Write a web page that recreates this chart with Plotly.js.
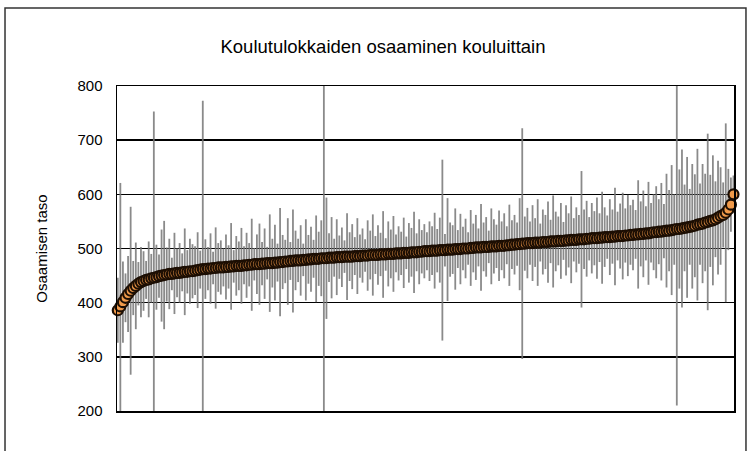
<!DOCTYPE html>
<html>
<head>
<meta charset="utf-8">
<script src="https://cdn.plot.ly/plotly-3.0.1.min.js"></script>
<style>html,body{margin:0;padding:0;background:#fff;}#chart{width:748px;height:451px;}</style>
</head>
<body>
<div id="chart"></div>
<script>
// Koulun keskiarvot (järjestetty pienimmästä suurimpaan)
const meanScores = [
  386, 393, 401, 409, 416, 422, 427, 431, 435, 438,
  440, 442, 443, 445, 446, 447, 449, 450, 451, 452,
  453, 453, 454, 455, 455, 456, 457, 457, 458, 458,
  459, 460, 461, 462, 462, 463, 463, 464, 464, 465,
  465, 465, 466, 466, 467, 467, 468, 468, 468, 469,
  469, 470, 470, 471, 471, 471, 472, 472, 473, 473,
  473, 474, 474, 475, 475, 476, 476, 477, 477, 478,
  478, 478, 479, 479, 480, 480, 481, 481, 481, 482,
  482, 482, 483, 483, 483, 484, 484, 484, 485, 485,
  485, 485, 486, 486, 486, 487, 487, 487, 488, 488,
  488, 488, 489, 489, 489, 490, 490, 490, 491, 491,
  491, 492, 492, 492, 493, 493, 493, 494, 494, 495,
  495, 495, 496, 496, 496, 497, 497, 497, 498, 498,
  498, 499, 499, 499, 500, 500, 500, 501, 501, 502,
  502, 502, 503, 503, 503, 504, 504, 504, 505, 505,
  505, 506, 506, 507, 507, 508, 508, 509, 509, 510,
  510, 510, 511, 511, 511, 512, 512, 512, 513, 513,
  513, 514, 514, 514, 515, 515, 516, 516, 516, 517,
  517, 517, 518, 518, 519, 519, 519, 520, 520, 521,
  521, 521, 522, 522, 523, 523, 523, 524, 524, 525,
  525, 526, 526, 527, 527, 528, 528, 529, 530, 530,
  531, 531, 532, 533, 533, 534, 535, 536, 536, 537,
  538, 539, 540, 541, 542, 544, 545, 546, 548, 549,
  551, 552, 554, 557, 560, 562, 566, 572, 581, 600
];
// Luottamusvälin puolileveys
const errorHalf = [
  60, 228, 75, 45, 70, 155, 50, 80, 40, 65,
  55, 35, 70, 45, 307, 60, 40, 85, 100, 50,
  65, 30, 75, 45, 55, 35, 80, 40, 60, 50,
  45, 70, 35, 311, 55, 40, 65, 30, 75, 45,
  50, 35, 60, 40, 80, 30, 55, 45, 70, 35,
  60, 40, 85, 30, 55, 75, 40, 65, 30, 90,
  45, 70, 35, 100, 50, 40, 80, 35, 95, 55,
  40, 65, 30, 75, 45, 60, 35, 80, 50, 70,
  340, 112, 45, 75, 35, 70, 40, 55, 30, 80,
  45, 60, 35, 70, 40, 50, 30, 65, 45, 75,
  35, 55, 40, 80, 30, 60, 45, 70, 35, 50,
  40, 65, 30, 55, 45, 75, 35, 60, 40, 50,
  35, 55, 45, 70, 40, 60, 167, 30, 95, 50,
  45, 75, 35, 65, 40, 55, 30, 70, 45, 60,
  35, 80, 45, 55, 30, 70, 50, 40, 65, 45,
  60, 35, 75, 45, 55, 40, 85, 213, 50, 65,
  40, 70, 45, 80, 35, 60, 50, 75, 40, 85,
  55, 45, 70, 35, 65, 50, 80, 40, 60, 45,
  126, 55, 70, 40, 65, 50, 75, 45, 85, 55,
  40, 70, 50, 90, 45, 60, 80, 50, 75, 55,
  65, 45, 100, 60, 80, 50, 95, 55, 70, 85,
  60, 90, 50, 105, 75, 120, 65, 326, 110, 146,
  80, 130, 70, 115, 95, 140, 75, 110, 90, 163,
  85, 120, 70, 105, 90, 60, 165, 75, 50, 35
];
const schoolIndex = meanScores.map((v, i) => i + 1);
const yTickValues = [200, 300, 400, 500, 600, 700, 800];
const titleText = 'Koulutulokkaiden osaaminen kouluittain';
const yTitleText = 'Osaamisen taso';

const FONT = '"Liberation Sans", Arial, sans-serif';

const traceErr = {
  x: schoolIndex, y: meanScores, type: 'scatter', mode: 'markers',
  marker: {size: 1, color: 'rgba(0,0,0,0)'},
  error_y: {type: 'data', array: errorHalf, visible: true, color: 'rgba(118,118,118,0.85)', thickness: 1.8, width: 0},
  hoverinfo: 'skip', showlegend: false
};
const tracePts = {
  x: schoolIndex, y: meanScores, type: 'scatter', mode: 'markers',
  cliponaxis: false,
  marker: {size: 10, color: '#f09a4a', line: {color: '#1c0e03', width: 2.2}},
  showlegend: false
};

const layout = {
  width: 748, height: 451,
  margin: {l: 117, r: 14, t: 86, b: 40, pad: 0},
  paper_bgcolor: '#ffffff', plot_bgcolor: '#ffffff',
  font: {family: FONT, color: '#000', size: 15},
  title: {text: titleText, font: {family: FONT, size: 18.5, color: '#000'},
          x: 0.512, xref: 'container', xanchor: 'center', y: 0.896, yref: 'container', yanchor: 'middle'},
  xaxis: {range: [0.7, 240.2], showgrid: false, zeroline: false, showticklabels: false, ticks: '',
          showline: true, mirror: true, linecolor: '#000', linewidth: 1.5},
  yaxis: {range: [200, 800], tickvals: yTickValues, ticktext: yTickValues.map(String),
          showgrid: true, gridcolor: '#000', gridwidth: 1.5, zeroline: false,
          showline: true, mirror: true, linecolor: '#000', linewidth: 1.5,
          ticks: 'outside', ticklen: 10, tickcolor: 'rgba(0,0,0,0)',
          tickfont: {family: FONT, size: 15, color: '#000'},
          title: {text: yTitleText, font: {family: FONT, size: 15, color: '#000'}, standoff: 26}},
  shapes: [{type: 'rect', xref: 'paper', yref: 'paper', x0: -0.1815, x1: 1.0194, y0: -0.3, y1: 1.24,
            line: {color: '#333', width: 1.5}, fillcolor: 'rgba(0,0,0,0)', layer: 'below'}]
};

Plotly.newPlot('chart', [traceErr, tracePts], layout, {displayModeBar: false, staticPlot: true});
</script>
</body>
</html>
